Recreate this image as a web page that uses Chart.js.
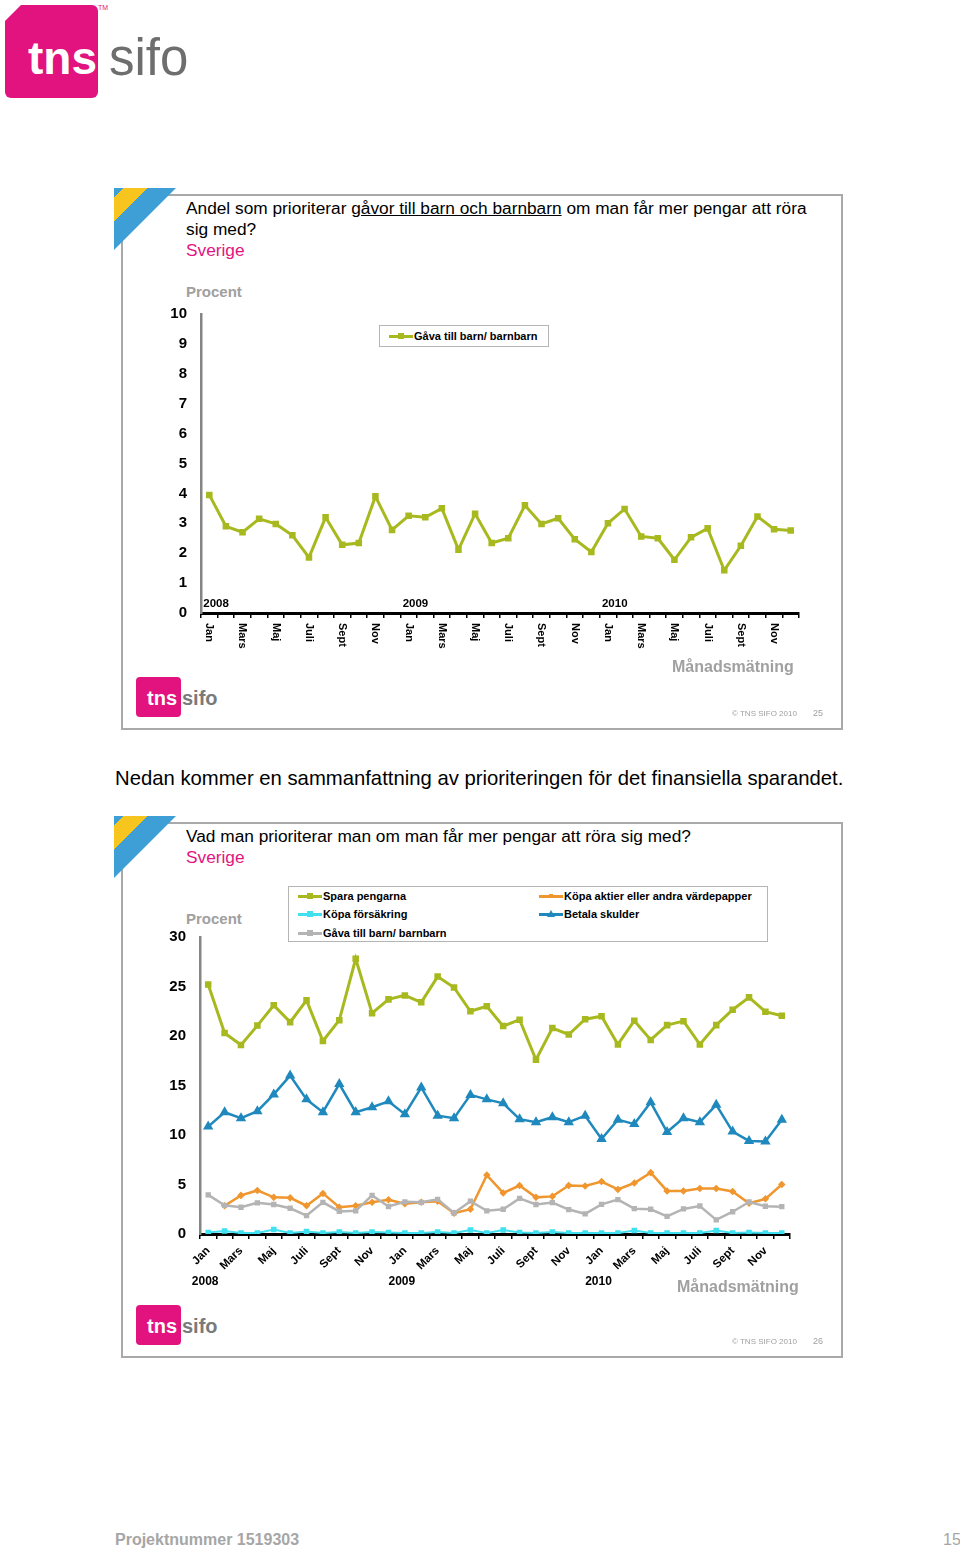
<!DOCTYPE html>
<html>
<head>
<meta charset="utf-8">
<script src="https://cdn.jsdelivr.net/npm/chart.js"></script>
<style>
  body { margin: 0; background: #fff; font-family: "Liberation Sans", Arial, sans-serif; }
  #page { position: relative; width: 960px; height: 1553px; overflow: hidden; }
  .abs { position: absolute; white-space: nowrap; }
  .frame { position: absolute; box-sizing: border-box; border: 2px solid #a9a9a9; background: #fff; }
  .flag { position: absolute; width: 62px; height: 62px;
    background: linear-gradient(135deg, #3d9fd6 0%, #3d9fd6 8%, #f7c51e 8%, #f7c51e 27%, #3d9fd6 27%, #3d9fd6 100%);
    clip-path: polygon(0 0, 100% 0, 0 100%); }
  .title { font-size: 17.3px; line-height: 21px; color: #000; }
  .pink { color: #e3147f; }
  .grey { color: #a0a0a0; font-weight: bold; }
  .legend { position: absolute; box-sizing: border-box; border: 1px solid #b5b5b5; background: #fff; }
  .item { position: absolute; font-size: 11px; font-weight: bold; line-height: 14px; white-space: nowrap; }
  .sym { display: inline-block; width: 24px; height: 3px; vertical-align: middle; position: relative; margin-right: 1px; top: -1px; }
  .sym i { position: absolute; left: 9px; top: -2px; width: 6px; height: 6px; }
  .logo { position: absolute; background: #e2137e; border-radius: 4px; }
  .copy { font-size: 8px; color: #a0a0a0; }
</style>
</head>
<body>
<div id="page">
  <!-- stor logga -->
  <div class="logo" style="left:5px;top:5px;width:93px;height:93px;border-radius:6px;clip-path:polygon(16px 0,100% 0,100% 100%,0 100%,0 16px);"></div>
  <div class="abs" style="left:28px;top:30px;font-size:46px;font-weight:bold;color:#fff;line-height:56px;">tns</div>
  <div class="abs" style="left:109px;top:30px;font-size:51px;color:#6e6e6e;line-height:56px;">sifo</div>
  <div class="abs" style="left:98px;top:4px;font-size:7px;color:#e2137e;">TM</div>

  <!-- slide 1 -->
  <div class="frame" style="left:121px;top:194px;width:722px;height:536px;"></div>
  <div class="flag" style="left:114px;top:188px;"></div>
  <div class="abs title" style="left:186px;top:198px;">Andel som prioriterar <u>gåvor till barn och barnbarn</u> om man får mer pengar att röra<br>sig med?<br><span class="pink">Sverige</span></div>
  <div class="abs grey" style="left:186px;top:283px;font-size:15px;line-height:18px;">Procent</div>
  <canvas id="c1" width="660" height="369" style="position:absolute;left:150px;top:291px;"></canvas>
  <div class="legend" style="left:379px;top:325px;width:170px;height:22px;">
    <div class="item" style="left:9px;top:3px;"><span class="sym" style="background:#a8b91f"><i style="background:#a8b91f"></i></span>Gåva till barn/ barnbarn</div>
  </div>
  <div class="abs grey" style="left:672px;top:658px;font-size:16px;line-height:18px;">Månadsmätning</div>
  <div class="logo" style="left:136px;top:677px;width:45px;height:40px;"></div>
  <div class="abs" style="left:147px;top:686px;font-size:20px;font-weight:bold;color:#fff;line-height:24px;">tns</div>
  <div class="abs" style="left:182px;top:686px;font-size:20px;font-weight:bold;color:#7a7a7a;line-height:24px;">sifo</div>
  <div class="abs copy" style="left:732px;top:709px;">© TNS SIFO 2010</div>
  <div class="abs copy" style="left:813px;top:708px;font-size:9px;">25</div>

  <div class="abs" style="left:115px;top:766px;font-size:20.3px;line-height:24px;color:#000;">Nedan kommer en sammanfattning av prioriteringen för det finansiella sparandet.</div>

  <!-- slide 2 -->
  <div class="frame" style="left:121px;top:822px;width:722px;height:536px;"></div>
  <div class="flag" style="left:114px;top:816px;"></div>
  <div class="abs title" style="left:186px;top:826px;">Vad man prioriterar man om man får mer pengar att röra sig med?<br><span class="pink">Sverige</span></div>
  <div class="abs grey" style="left:186px;top:910px;font-size:15px;line-height:18px;">Procent</div>
  <canvas id="c2" width="660" height="386" style="position:absolute;left:150px;top:914px;"></canvas>
  <div class="legend" style="left:288px;top:886px;width:480px;height:56px;">
    <div class="item" style="left:9px;top:2px;"><span class="sym" style="background:#a8b91f"><i style="background:#a8b91f"></i></span>Spara pengarna</div>
    <div class="item" style="left:9px;top:20px;"><span class="sym" style="background:#40e0f0"><i style="background:#40e0f0"></i></span>Köpa försäkring</div>
    <div class="item" style="left:9px;top:39px;"><span class="sym" style="background:#b4b4b4"><i style="background:#b4b4b4"></i></span>Gåva till barn/ barnbarn</div>
    <div class="item" style="left:250px;top:2px;"><span class="sym" style="background:#f0962e"><i style="background:#f0962e;width:4px;height:4px;top:-1px;left:10px"></i></span>Köpa aktier eller andra värdepapper</div>
    <div class="item" style="left:250px;top:20px;"><span class="sym" style="background:#1f89bd"><i style="background:transparent;width:0;height:0;border-left:4px solid transparent;border-right:4px solid transparent;border-bottom:7px solid #1f89bd;top:-3px;left:8px"></i></span>Betala skulder</div>
  </div>
  <div class="abs grey" style="left:677px;top:1278px;font-size:16px;line-height:18px;">Månadsmätning</div>
  <div class="logo" style="left:136px;top:1305px;width:45px;height:40px;"></div>
  <div class="abs" style="left:147px;top:1314px;font-size:20px;font-weight:bold;color:#fff;line-height:24px;">tns</div>
  <div class="abs" style="left:182px;top:1314px;font-size:20px;font-weight:bold;color:#7a7a7a;line-height:24px;">sifo</div>
  <div class="abs copy" style="left:732px;top:1337px;">© TNS SIFO 2010</div>
  <div class="abs copy" style="left:813px;top:1336px;font-size:9px;">26</div>

  <div class="abs" style="left:115px;top:1530px;font-size:16px;font-weight:bold;color:#a6a6a6;line-height:20px;">Projektnummer 1519303</div>
  <div class="abs" style="left:943px;top:1530px;font-size:16px;color:#a6a6a6;line-height:20px;">15</div>
</div>

<script>
// kategorier: jan 2008 - dec 2010, etikett varannan månad
const years = ['2008', '2009', '2010'];
const monthTicks = ['Jan', '', 'Mars', '', 'Maj', '', 'Juli', '', 'Sept', '', 'Nov', ''];

// Procent per månad
const gava = [3.95, 2.9, 2.7, 3.15, 2.98, 2.6, 1.86, 3.2, 2.28, 2.34, 3.9, 2.78,
              3.25, 3.2, 3.5, 2.12, 3.32, 2.34, 2.5, 3.6, 2.98, 3.17, 2.47, 2.04,
              3.0, 3.48, 2.56, 2.5, 1.78, 2.53, 2.83, 1.43, 2.25, 3.23, 2.8, 2.76];
const spara = [25.2, 20.3, 19.1, 21.05, 23.1, 21.4, 23.6, 19.5, 21.6, 27.8, 22.3, 23.7,
               24.1, 23.4, 26.0, 24.9, 22.5, 23.0, 21.0, 21.65, 17.6, 20.8, 20.15, 21.7,
               22.0, 19.15, 21.55, 19.6, 21.1, 21.5, 19.15, 21.1, 22.65, 23.9, 22.45, 22.05];
const betala = [10.85, 12.3, 11.7, 12.4, 14.1, 16.0, 13.6, 12.3, 15.15, 12.3, 12.8, 13.4,
                12.1, 14.8, 11.95, 11.7, 14.05, 13.6, 13.2, 11.6, 11.3, 11.8, 11.3, 11.95,
                9.6, 11.55, 11.1, 13.3, 10.3, 11.7, 11.3, 13.05, 10.35, 9.4, 9.35, 11.55];
const aktier = [null, 2.86, 3.9, 4.4, 3.7, 3.65, 2.86, 4.1, 2.7, 2.86, 3.2, 3.45,
                3.05, 3.2, 3.3, 2.1, 2.5, 5.95, 4.15, 4.9, 3.7, 3.8, 4.9, 4.85,
                5.3, 4.5, 5.15, 6.2, 4.35, 4.35, 4.6, 4.6, 4.3, 3.1, 3.55, 5.0];
const forsakring = [0.15, 0.3, 0.1, 0.1, 0.45, 0.1, 0.25, 0.1, 0.2, 0.1, 0.2, 0.15,
                    0.1, 0.1, 0.2, 0.1, 0.4, 0.1, 0.4, 0.15, 0.1, 0.2, 0.1, 0.1,
                    0.1, 0.1, 0.35, 0.1, 0.1, 0.1, 0.1, 0.35, 0.1, 0.15, 0.1, 0.1];

const labels = years.flatMap(() => monthTicks);

const GREEN = '#a8b91f', BLUE = '#1f89bd', ORANGE = '#f0962e', GREY = '#b4b4b4', CYAN = '#40e0f0';
const tickFont = { family: 'Liberation Sans', weight: 'bold', size: 15 };

// årtal + (för diagram 1) lodräta månadsetiketter
function yearPlugin(opts) {
  return {
    id: 'years',
    afterDraw(chart) {
      const ctx = chart.ctx, xs = chart.scales.x;
      ctx.save();
      ctx.fillStyle = '#000';
      ctx.font = 'bold ' + opts.yearSize + 'px "Liberation Sans"';
      years.forEach((y, k) => {
        const px = xs.getPixelForValue(k * 12);
        ctx.textAlign = opts.yearAlign;
        ctx.textBaseline = 'middle';
        ctx.fillText(y, px + opts.yearDx, opts.yearY);
      });
      if (opts.vertical) {
        ctx.font = 'bold 11px "Liberation Sans"';
        labels.forEach((l, i) => {
          if (!l) return;
          const px = xs.getPixelForValue(i);
          ctx.save();
          ctx.translate(px, chart.chartArea.bottom + 10);
          ctx.rotate(Math.PI / 2);
          ctx.textAlign = 'left';
          ctx.textBaseline = 'middle';
          ctx.fillText(l, 0, 0);
          ctx.restore();
        });
      }
      ctx.restore();
    }
  };
}

function xAxis(showTicks, height) {
  return {
    type: 'category',
    offset: true,
    grid: { offset: true, drawOnChartArea: false, drawTicks: true, tickLength: 5, color: '#000', lineWidth: 1.5 },
    border: { color: '#000', width: 3 },
    ticks: showTicks ? {
      autoSkip: false, maxRotation: 45, minRotation: 45, padding: 5,
      color: '#000', font: { family: 'Liberation Sans', weight: 'bold', size: 11.5 },
      callback: (v, i) => labels[i]
    } : { display: false },
    afterFit: s => { s.height = height; }
  };
}

function yAxis(max, step, width, pad) {
  return {
    min: 0, max: max,
    ticks: { stepSize: step, color: '#000', font: tickFont, padding: pad },
    grid: { drawOnChartArea: false, drawTicks: false },
    border: { color: '#858585', width: 2.5 },
    afterFit: s => { s.width = width; }
  };
}

new Chart(document.getElementById('c1'), {
  type: 'line',
  data: {
    labels: labels,
    datasets: [{
      label: 'Gåva till barn/ barnbarn', data: gava,
      borderColor: GREEN, backgroundColor: GREEN, borderWidth: 3,
      pointStyle: 'rect', pointRadius: 2.5, tension: 0
    }]
  },
  options: {
    responsive: false, animation: false,
    layout: { padding: { top: 14, right: 11, left: 0, bottom: 0 } },
    plugins: { legend: { display: false }, tooltip: { enabled: false } },
    scales: { x: xAxis(false, 47), y: yAxis(10, 1, 51, 14) }
  },
  plugins: [yearPlugin({ vertical: true, yearSize: 11.5, yearAlign: 'left', yearDx: -6, yearY: 313 })]
});

new Chart(document.getElementById('c2'), {
  type: 'line',
  data: {
    labels: labels,
    datasets: [
      { label: 'Köpa försäkring', data: forsakring, borderColor: CYAN, backgroundColor: CYAN,
        borderWidth: 2, pointStyle: 'rect', pointRadius: 2.5 },
      { label: 'Gåva till barn/ barnbarn', data: gava, borderColor: GREY, backgroundColor: GREY,
        borderWidth: 2.5, pointStyle: 'rect', pointRadius: 2 },
      { label: 'Köpa aktier eller andra värdepapper', data: aktier, borderColor: ORANGE, backgroundColor: ORANGE,
        borderWidth: 2.5, pointStyle: 'rectRot', pointRadius: 2 },
      { label: 'Betala skulder', data: betala, borderColor: BLUE, backgroundColor: BLUE,
        borderWidth: 2.5, pointStyle: 'triangle', pointRadius: 3.5 },
      { label: 'Spara pengarna', data: spara, borderColor: GREEN, backgroundColor: GREEN,
        borderWidth: 3, pointStyle: 'rect', pointRadius: 2.5 }
    ]
  },
  options: {
    responsive: false, animation: false,
    layout: { padding: { top: 11, right: 20, left: 0, bottom: 0 } },
    plugins: { legend: { display: false }, tooltip: { enabled: false } },
    scales: { x: xAxis(true, 66), y: yAxis(30, 5, 50, 14) }
  },
  plugins: [yearPlugin({ vertical: false, yearSize: 12, yearAlign: 'center', yearDx: -3, yearY: 368 })]
});
</script>
</body>
</html>
